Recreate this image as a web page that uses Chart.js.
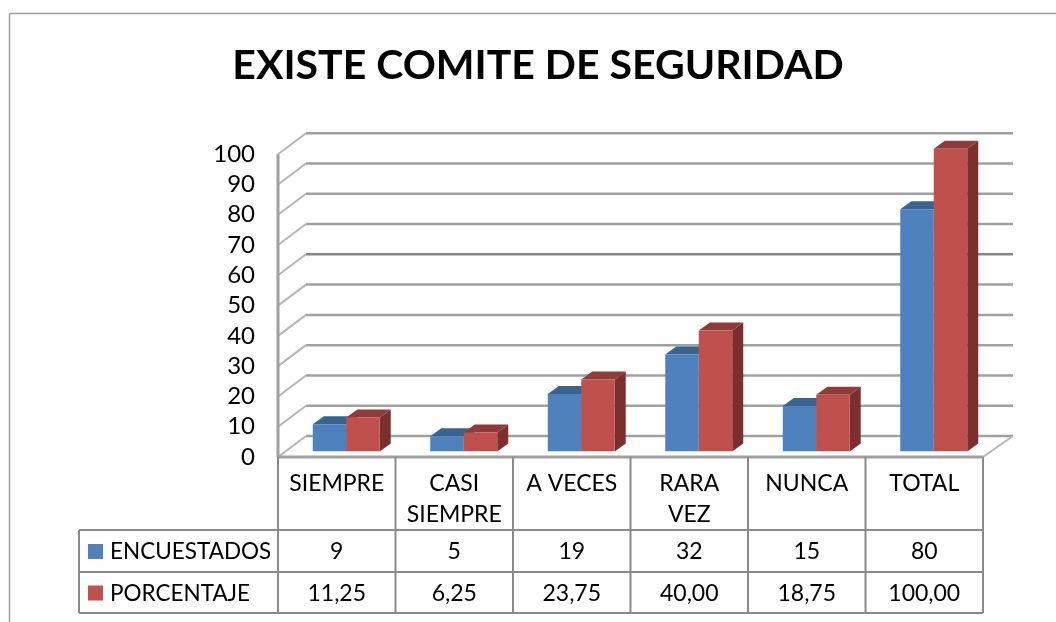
<!DOCTYPE html>
<html>
<head>
<meta charset="utf-8">
<style>
  html, body { margin: 0; padding: 0; background: #fff; overflow: hidden; }
  #myChart { display: block; }
</style>
<script src="https://cdn.jsdelivr.net/npm/chart.js@4"></script>
</head>
<body>
<canvas id="myChart" width="1056" height="622"></canvas>
<script>
const categories = ['SIEMPRE', ['CASI', 'SIEMPRE'], 'A VECES', ['RARA', 'VEZ'], 'NUNCA', 'TOTAL']
const encuestados = [9, 5, 19, 32, 15, 80]
const porcentaje = [11.25, 6.25, 23.75, 40, 18.75, 100]
const encuestadosLabels = ['9', '5', '19', '32', '15', '80']
const porcentajeLabels = ['11,25', '6,25', '23,75', '40,00', '18,75', '100,00']
const yTicks = [0, 10, 20, 30, 40, 50, 60, 70, 80, 90, 100]

const gray = '#a0a0a0'
const font = 'Lato, Carlito, sans-serif'
// depth of the fake 3D box
const wallDx = 28, wallDy = -21
// bars stand a bit inside the floor
const barDx = 9.5, barDy = -5.5
const faceDx = 11, faceDy = -8

function line(c, x1, y1, x2, y2, color, w) {
    c.strokeStyle = color
    c.lineWidth = w
    c.beginPath()
    c.moveTo(x1, y1)
    c.lineTo(x2, y2)
    c.stroke()
}

function poly(c, pts, color) {
    c.fillStyle = color
    c.beginPath()
    pts.forEach((p, i) => i ? c.lineTo(p[0], p[1]) : c.moveTo(p[0], p[1]))
    c.closePath()
    c.fill()
}

const box3d = {
    id: 'box3d',
    beforeDatasetsDraw(chart) {
        const c = chart.ctx, a = chart.chartArea, y = chart.scales.y
        c.save()
        // outer frame
        line(c, 9.5, 622, 9.5, 13.5, gray, 1.5)
        line(c, 9.5, 13.5, 1056, 13.5, gray, 1.5)
        // walls
        yTicks.forEach(t => {
            const py = y.getPixelForValue(t)
            line(c, a.left, py, a.left + wallDx, py + wallDy, '#b5b5b5', 2)
            line(c, a.left + wallDx, py + wallDy, a.right + wallDx + 2, py + wallDy, t === 60 ? '#858585' : gray, 2.5)
        })
        line(c, a.left, a.top, a.left, a.bottom, gray, 3)
        line(c, a.right, a.bottom, a.right + wallDx + 2, a.bottom + wallDy, '#b5b5b5', 2)
        // side and top faces, front is drawn by the library afterwards
        const cols = [['#3a6490', '#3a6490'], ['#8f3c39', '#7d2f2d']]
        chart.data.datasets.forEach((ds, i) => {
            chart.getDatasetMeta(i).data.forEach(b => {
                const x1 = b.x - b.width / 2 + barDx, x2 = b.x + b.width / 2 + barDx
                const top = b.y + barDy, bot = b.base + barDy
                poly(c, [[x2, top], [x2 + faceDx, top + faceDy], [x2 + faceDx, bot + faceDy], [x2, bot]], cols[i][1])
                poly(c, [[x1, top], [x1 + faceDx, top + faceDy], [x2 + faceDx, top + faceDy], [x2, top]], cols[i][0])
            })
        })
        c.restore()
        c.save()
        c.translate(barDx, barDy)
    },
    afterDatasetsDraw(chart) {
        chart.ctx.restore()
    },
    afterDraw(chart) {
        const c = chart.ctx, a = chart.chartArea, x = chart.scales.x
        const rows = [530, 572, 613]
        const tableLeft = 79
        const w = (a.right - a.left) / categories.length
        c.save()
        // data table grid
        line(c, a.left - 1, a.bottom, a.right, a.bottom, gray, 3)
        rows.forEach(r => line(c, tableLeft, r, a.right, r, '#8a8a8a', 2))
        line(c, tableLeft, rows[0], tableLeft, rows[2], '#8a8a8a', 2)
        for (let i = 0; i <= categories.length; i++) {
            line(c, a.left + i * w, a.bottom, a.left + i * w, rows[2], '#8a8a8a', 2)
        }
        // legend keys and table text
        c.textBaseline = 'middle'
        const series = [['ENCUESTADOS', encuestadosLabels, '#4f81bd'], ['PORCENTAJE', porcentajeLabels, '#c0504d']]
        series.forEach((s, r) => {
            const my = (rows[r] + rows[r + 1]) / 2 + 1
            c.fillStyle = s[2]
            c.fillRect(88, my - 8, 15, 15)
            c.fillStyle = '#000'
            c.font = '22.5px ' + font
            c.textAlign = 'left'
            c.fillText(s[0], 110, my)
            c.font = '23px ' + font
            c.textAlign = 'center'
            s[1].forEach((t, i) => c.fillText(t, x.getPixelForValue(i), my))
        })
        c.restore()
    }
}

let ctx = document.getElementById('myChart')

let myChart = new Chart(ctx, {
    type: 'bar',
    data: {
        labels: categories,
        datasets: [{
            label: 'ENCUESTADOS',
            data: encuestados,
            backgroundColor: '#4f81bd',
            borderWidth: 0,
        }, {
            label: 'PORCENTAJE',
            data: porcentaje,
            backgroundColor: '#c0504d',
            borderWidth: 0,
        }]
    },
    options: {
        responsive: false,
        animation: false,
        categoryPercentage: 0.57,
        barPercentage: 1,
        layout: { padding: { left: 93, right: 73, top: 0, bottom: 0 } },
        plugins: {
            legend: { display: false },
            tooltip: { enabled: false },
            title: {
                display: true,
                text: 'EXISTE COMITE DE SEGURIDAD',
                color: '#000',
                font: { family: font, size: 41, weight: 'bold' },
                padding: { top: 41, bottom: 64 },
            },
        },
        scales: {
            x: {
                grid: { display: false },
                border: { display: false },
                ticks: { color: '#000', font: { family: font, size: 23, lineHeight: 1.35 }, maxRotation: 0, autoSkip: false, padding: 3 },
                afterFit(s) { s.height = 165 },
            },
            y: {
                min: 0,
                max: 100,
                grid: { display: false },
                border: { display: false },
                afterBuildTicks(s) { s.ticks = yTicks.map(v => ({ value: v })) },
                ticks: { color: '#000', font: { family: font, size: 24 }, padding: 15, autoSkip: false },
                afterFit(s) { s.width = 185 },
            },
        },
    },
    plugins: [box3d],
})
</script>
</body>
</html>
